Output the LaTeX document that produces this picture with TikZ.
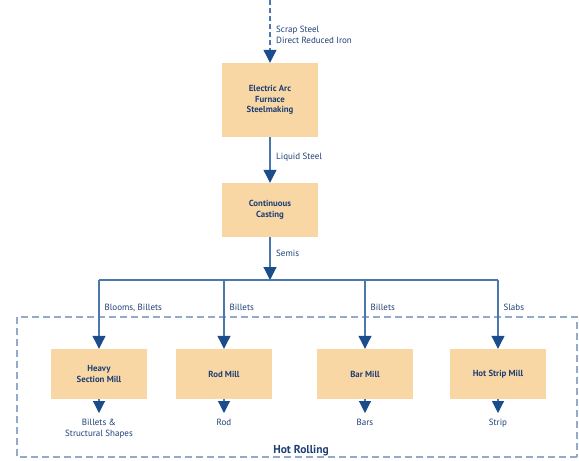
\documentclass[tikz,border=0pt]{standalone}
\usepackage{fontspec}
\setmainfont{PT Sans}
\usepackage{tikz}
\usetikzlibrary{arrows.meta,positioning}
\definecolor{MillInk}{HTML}{1E3F73}
\definecolor{MillLine}{HTML}{4A77AE}
\definecolor{MillHead}{HTML}{1B4C8C}
\definecolor{MillFill}{HTML}{F9D7A5}
\definecolor{MillGuide}{HTML}{93AACB}
\tikzset{
  every node/.style = {text=MillInk},
  stage/.style = {
    fill=MillFill,
    draw=none,
    minimum width=96pt,
    minimum height=50pt,
    align=center,
    font=\fontsize{8.8}{10.5}\selectfont\bfseries,
    inner sep=2pt
  },
  flow/.style = {-{Triangle[length=13pt,width=13pt,color=MillHead]}, draw=MillLine, line width=1.1pt},
  feed/.style = {flow, dashed, dash pattern=on 5pt off 3pt},
  bus/.style = {draw=MillLine, line width=1.1pt},
  tag/.style = {font=\fontsize{9}{11}\selectfont, anchor=west, align=left, inner sep=1pt},
  product/.style = {font=\fontsize{9}{11}\selectfont, anchor=north, align=center, inner sep=1pt},
  area/.style = {draw=MillGuide, line width=1.3pt, dash pattern=on 7pt off 4pt},
}

\begin{document}
\begin{tikzpicture}[x=1pt,y=-1pt]
  \useasboundingbox (0,0) rectangle (579,461);

  % hot rolling area
  \draw[area] (577,457) -- (17,457) -- (17,317) -- (577,317) -- cycle;
  \node[font=\fontsize{11.5}{12}\selectfont\bfseries] (hotlabel) at (301,451) {Hot Rolling};

  % melt shop
  \coordinate (charge) at (270,0);
  \node[stage, minimum height=74pt] (eaf) at (270,100) {Electric Arc\\Furnace\\Steelmaking};
  \node[stage, minimum height=54pt] (caster) at (270,210) {Continuous\\Casting};
  \coordinate (split) at (270,280);

  \draw[feed] (charge) -- (eaf.north);
  \node[tag] (chargetag) at (275,35) {Scrap Steel\\Direct Reduced Iron};
  \draw[flow] (eaf.south) -- (caster.north);
  \node[tag] (liquidtag) at (275,157) {Liquid Steel};
  \draw[flow] (caster.south) -- (split);
  \node[tag] (semistag) at (275,253) {Semis};

  % mills
  \node[stage] (heavy) at (99,374) {Heavy\\Section Mill};
  \node[stage] (rod) at (224,374) {Rod Mill};
  \node[stage] (bar) at (365,374) {Bar Mill};
  \node[stage] (strip) at (498,374) {Hot Strip Mill};

  \draw[bus] (heavy.north|-split) -- (strip.north|-split);
  \draw[flow] (heavy.north|-split) -- node[tag, pos=0.4, xshift=4pt] {Blooms, Billets} (heavy.north);
  \draw[flow] (rod.north|-split) -- node[tag, pos=0.4, xshift=4pt] {Billets} (rod.north);
  \draw[flow] (bar.north|-split) -- node[tag, pos=0.4, xshift=4pt] {Billets} (bar.north);
  \draw[flow] (strip.north|-split) -- node[tag, pos=0.4, xshift=4pt] {Slabs} (strip.north);

  % products
  \node[product] (out-heavy) at (99,418) {Billets \&\\Structural Shapes};
  \node[product] (out-rod) at (224,418) {Rod};
  \node[product] (out-bar) at (365,418) {Bars};
  \node[product] (out-strip) at (498,418) {Strip};
  \foreach \m in {heavy,rod,bar,strip}
    \draw[flow, -{Triangle[length=12pt,width=12pt,color=MillHead]}] (\m.south) -- ([yshift=5pt]out-\m.north);
\end{tikzpicture}
\end{document}
